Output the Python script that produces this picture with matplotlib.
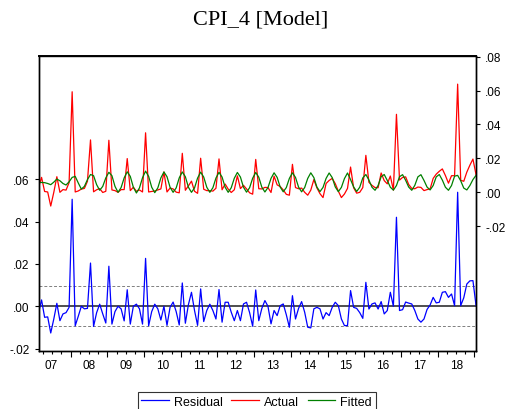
import numpy as np
import matplotlib.pyplot as plt

# CPI_4 model: monthly data, 2007M02 .. 2019M01
# fitted values (right axis), one list per year
fitted_2007 = [0.0059, 0.0058, 0.0057, 0.0052, 0.0045, 0.0060, 0.0078, 0.0068, 0.0052, 0.0043, 0.0062]
fitted_2008 = [0.0088, 0.0094, 0.0055, 0.0019, 0.0035, 0.0075, 0.0105, 0.0098, 0.0045, 0.0012, 0.0035, 0.0085]
fitted_2009 = [0.0118, 0.0098, 0.0035, 0.0000, 0.0028, 0.0085, 0.0121, 0.0094, 0.0030, -0.0004, 0.0026, 0.0086]
fitted_2010 = [0.0125, 0.0094, 0.0030, -0.0002, 0.0026, 0.0085, 0.0120, 0.0092, 0.0030, 0.0000, 0.0026, 0.0085]
fitted_2011 = [0.0120, 0.0092, 0.0030, 0.0000, 0.0026, 0.0084, 0.0119, 0.0090, 0.0030, 0.0000, 0.0027, 0.0084]
fitted_2012 = [0.0118, 0.0090, 0.0030, 0.0000, 0.0027, 0.0083, 0.0117, 0.0090, 0.0030, 0.0001, 0.0027, 0.0083]
fitted_2013 = [0.0117, 0.0089, 0.0030, 0.0002, 0.0028, 0.0082, 0.0115, 0.0088, 0.0031, 0.0003, 0.0028, 0.0082]
fitted_2014 = [0.0115, 0.0088, 0.0031, 0.0003, 0.0028, 0.0082, 0.0115, 0.0087, 0.0031, 0.0004, 0.0029, 0.0082]
fitted_2015 = [0.0114, 0.0087, 0.0032, 0.0004, 0.0029, 0.0081, 0.0114, 0.0075, 0.0032, 0.0005, 0.0030, 0.0085]
fitted_2016 = [0.0105, 0.0072, 0.0030, 0.0012, 0.0040, 0.0092, 0.0105, 0.0070, 0.0030, 0.0013, 0.0040, 0.0092]
fitted_2017 = [0.0104, 0.0071, 0.0031, 0.0012, 0.0041, 0.0091, 0.0104, 0.0070, 0.0031, 0.0014, 0.0040, 0.0091]
fitted_2018 = [0.0105, 0.0072, 0.0030, 0.0012, 0.0040, 0.0095, 0.0100, 0.0068, 0.0025, 0.0014, 0.0040, 0.0075]
fitted_2019 = [0.0100]

# residuals (left axis)
resid_2007 = [-0.0032, 0.0030, -0.0052, -0.0050, -0.0126, -0.0060, 0.0014, -0.0068, -0.0036, -0.0030, -0.0005]
resid_2008 = [0.0505, -0.0092, -0.0047, 0.0000, -0.0012, -0.0010, 0.0204, -0.0095, -0.0030, 0.0010, -0.0036, -0.0079]
resid_2009 = [0.0189, -0.0084, -0.0025, 0.0000, -0.0012, -0.0069, 0.0078, -0.0084, 0.0000, 0.0010, -0.0012, -0.0084]
resid_2010 = [0.0226, -0.0092, -0.0025, 0.0010, -0.0012, -0.0065, 0.0000, -0.0090, -0.0005, 0.0020, -0.0025, -0.0088]
resid_2011 = [0.0110, -0.0080, 0.0008, 0.0066, -0.0020, -0.0090, 0.0082, -0.0072, -0.0020, 0.0010, -0.0020, -0.0060]
resid_2012 = [0.0079, -0.0075, 0.0019, 0.0019, -0.0028, -0.0068, -0.0020, -0.0068, 0.0011, 0.0019, -0.0030, -0.0094]
resid_2013 = [0.0077, -0.0068, -0.0010, 0.0027, 0.0000, -0.0083, -0.0020, -0.0044, 0.0003, 0.0011, -0.0040, -0.0099]
resid_2014 = [0.0050, -0.0060, -0.0010, 0.0022, -0.0028, -0.0099, -0.0102, -0.0012, -0.0005, -0.0012, -0.0060, -0.0030]
resid_2015 = [-0.0044, -0.0005, 0.0019, 0.0003, -0.0060, -0.0091, -0.0091, 0.0074, -0.0005, -0.0010, -0.0030, -0.0057]
resid_2016 = [0.0113, -0.0013, 0.0011, 0.0016, -0.0013, 0.0022, -0.0036, -0.0020, 0.0066, 0.0000, 0.0420, -0.0020]
resid_2017 = [-0.0016, 0.0020, 0.0015, 0.0011, -0.0020, -0.0060, -0.0075, -0.0060, -0.0015, 0.0006, 0.0042, 0.0016]
resid_2018 = [0.0019, 0.0066, 0.0069, 0.0042, 0.0058, 0.0003, 0.0538, 0.0003, 0.0040, 0.0105, 0.0120, 0.0121]
resid_2019 = [0.0005]

year_labels = ["07", "08", "09", "10", "11", "12", "13", "14", "15", "16", "17", "18"]
se = 0.0095  # +/- 1 S.E. band

fitted = np.array(fitted_2007 + fitted_2008 + fitted_2009 + fitted_2010 + fitted_2011 + fitted_2012
                  + fitted_2013 + fitted_2014 + fitted_2015 + fitted_2016 + fitted_2017 + fitted_2018
                  + fitted_2019)
resid = np.array(resid_2007 + resid_2008 + resid_2009 + resid_2010 + resid_2011 + resid_2012
                 + resid_2013 + resid_2014 + resid_2015 + resid_2016 + resid_2017 + resid_2018
                 + resid_2019)
actual = fitted + resid
x = np.arange(len(actual))

W, H = 506, 410
fig = plt.figure(figsize=(W / 100, H / 100), dpi=100)
ax = fig.add_axes([38.5 / W, 1 - 352 / H, (476 - 38.5) / W, (352 - 57) / H])
ax2 = ax.twinx()

# residual on the left scale
ax.axhline(0, color="#404040", lw=1.3, zorder=1)
ax.axhline(se, color="#808080", lw=0.7, ls=(0, (3, 2)), zorder=1)
ax.axhline(-se, color="#808080", lw=0.7, ls=(0, (3, 2)), zorder=1)
l1, = ax.plot(x, resid, color="#0000FF", lw=0.9, zorder=3, label="Residual")

# actual / fitted on the right scale
l2, = ax2.plot(x, actual, color="#FF0000", lw=0.9, label="Actual")
l3, = ax2.plot(x, fitted, color="#008000", lw=0.9, label="Fitted")

ax.set_xlim(0, len(x) - 1)
ax.set_ylim(-0.0211, 0.1181)
ax2.set_ylim(-0.0936, 0.0804)

ax.set_yticks([-0.02, 0.0, 0.02, 0.04, 0.06])
ax.set_yticklabels(["-.02", ".00", ".02", ".04", ".06"])
ax2.set_yticks([-0.02, 0.0, 0.02, 0.04, 0.06, 0.08])
ax2.set_yticklabels(["-.02", ".00", ".02", ".04", ".06", ".08"])

# year boundaries (Dec/Jan) and quarter ticks
first_jan = 11
ax.set_xticks(np.arange(first_jan - 0.5, len(x), 12))
ax.set_xticks(np.arange(first_jan - 0.5 - 9, len(x), 3), minor=True)
ax.tick_params(axis="x", which="both", labelbottom=False, direction="out", width=0.8)
ax.tick_params(axis="x", which="major", length=4)
ax.tick_params(axis="x", which="minor", length=2.5)
label_pos = [4] + [first_jan + 5.5 + 12 * k for k in range(len(year_labels) - 1)]
for pos, lab in zip(label_pos, year_labels):
    ax.text(pos, -0.028, lab, transform=ax.get_xaxis_transform(), ha="center", va="top",
            fontsize=8.5, family="Liberation Sans")

for a in (ax, ax2):
    a.tick_params(axis="y", direction="out", length=3, width=0.8, pad=3.5, labelsize=8.5)
    for lab in a.get_yticklabels():
        lab.set_family("Liberation Sans")
    for s in a.spines.values():
        s.set_linewidth(1.0)
ax2.spines["top"].set_linewidth(1.4)

fig.text(0.515, 0.951, "CPI_4 [Model]", ha="center", va="center", fontsize=16,
         family="Liberation Serif")

leg = fig.legend(handles=[l1, l2, l3], loc="upper center", bbox_to_anchor=(0.507, 0.042),
                 borderaxespad=0, ncol=3, frameon=True, fancybox=False, edgecolor="black",
                 handlelength=2.2, handletextpad=0.4, columnspacing=0.7, borderpad=0.3,
                 prop={"family": "Liberation Sans", "size": 9})
leg.get_frame().set_linewidth(0.8)

fig.savefig("out.png", dpi=100)
